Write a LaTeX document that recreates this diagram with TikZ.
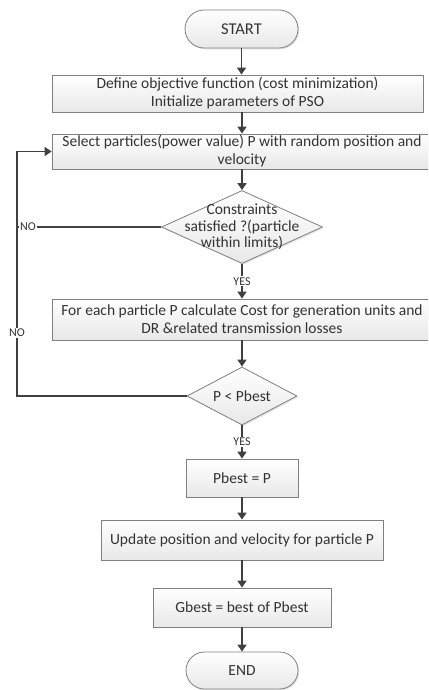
\documentclass[tikz,border=0pt]{standalone}
\usepackage{fontspec}
\setmainfont{Carlito}
\usetikzlibrary{shapes.geometric,shapes.misc,arrows.meta,shadows}
\definecolor{txt}{HTML}{333333}
\definecolor{edgec}{HTML}{808080}
\definecolor{arrc}{HTML}{404040}
\begin{document}
\begin{tikzpicture}[x=1pt,y=-1pt,
  box/.style={draw=edgec, line width=0.8pt, top color=white, bottom color=black!9,
    drop shadow={opacity=0.22, shadow xshift=1.3pt, shadow yshift=-1.3pt},
    inner sep=0pt, text=txt, font=\fontsize{15.5}{18}\selectfont, align=center},
  term/.style={box, rounded rectangle},
  dia/.style={box, diamond},
  dtext/.style={inner sep=0pt, text=txt, font=\fontsize{15.5}{16.5}\selectfont, align=center},
  arr/.style={draw=arrc, line width=1.5pt, -{Triangle[length=7pt,width=9pt]}},
  ln/.style={draw=arrc, line width=1.3pt},
  lbl/.style={fill=white, inner sep=1pt, text=txt, font=\fontsize{12}{13}\selectfont}]
\useasboundingbox (0,0) rectangle (428,690);
\clip (0,0) rectangle (428,690);

\node[term, minimum width=113pt, minimum height=38pt, font=\fontsize{16.5}{18}\selectfont] (start) at (241.5,29) {START};
\node[box, minimum width=371pt, minimum height=37pt] (b1) at (237.5,93.5)
  {Define objective function (cost minimization)\\Initialize parameters of PSO};
\node[box, minimum width=380pt, minimum height=35pt] (b2) at (242,151.5)
  {Select particles(power value) P with random position and\\velocity};
\node[dia, minimum width=161pt, minimum height=73pt] (d1) at (242,227) {};
\node[dtext] (d1t) at (d1.center) {Constraints\\satisfied ?(particle\\within limits)};
\node[box, minimum width=380pt, minimum height=41pt] (b3) at (242,319.5)
  {For each particle P calculate Cost for generation units and\\DR \&related transmission losses};
\node[dia, minimum width=110pt, minimum height=58pt] (d2) at (242,396) {};
\node[dtext] (d2t) at (d2.center) {P < Pbest};
\node[box, minimum width=112pt, minimum height=38pt] (pb) at (242,478) {Pbest = P};
\node[box, minimum width=282pt, minimum height=40pt] (up) at (242,540) {Update position and velocity for particle P};
\node[box, minimum width=178pt, minimum height=39pt] (gb) at (242,607.5) {Gbest = best of Pbest};
\node[term, minimum width=112pt, minimum height=37pt] (end) at (242,670.5) {END};

\draw[arr] (start.south) -- (start.south |- b1.north);
\draw[arr] (b2.north |- b1.south) -- (b2.north);
\draw[arr] (b2.south) -- (d1.north);
\draw[arr] (d1.south) -- node[lbl]{YES} (b3.north);
\draw[arr] (b3.south) -- (d2.north);
\draw[arr] (d2.south) -- node[lbl]{YES} (pb.north);
\draw[arr] (pb.south) -- (up.north);
\draw[arr] (up.south) -- (gb.north);
\draw[arr] (gb.south) -- (end.north);

\coordinate (c1) at (17,227);
\coordinate (c2) at (17,396);
\coordinate (c3) at (17,151.5);
\draw[ln] (d1.west) -- node[lbl,pos=0.924]{NO} (c1);
\draw[arr] (d2.west) -- (c2) -- (c3) -- (b2.west);
\node[lbl] (no2) at (17,333) {NO};
\end{tikzpicture}
\end{document}
